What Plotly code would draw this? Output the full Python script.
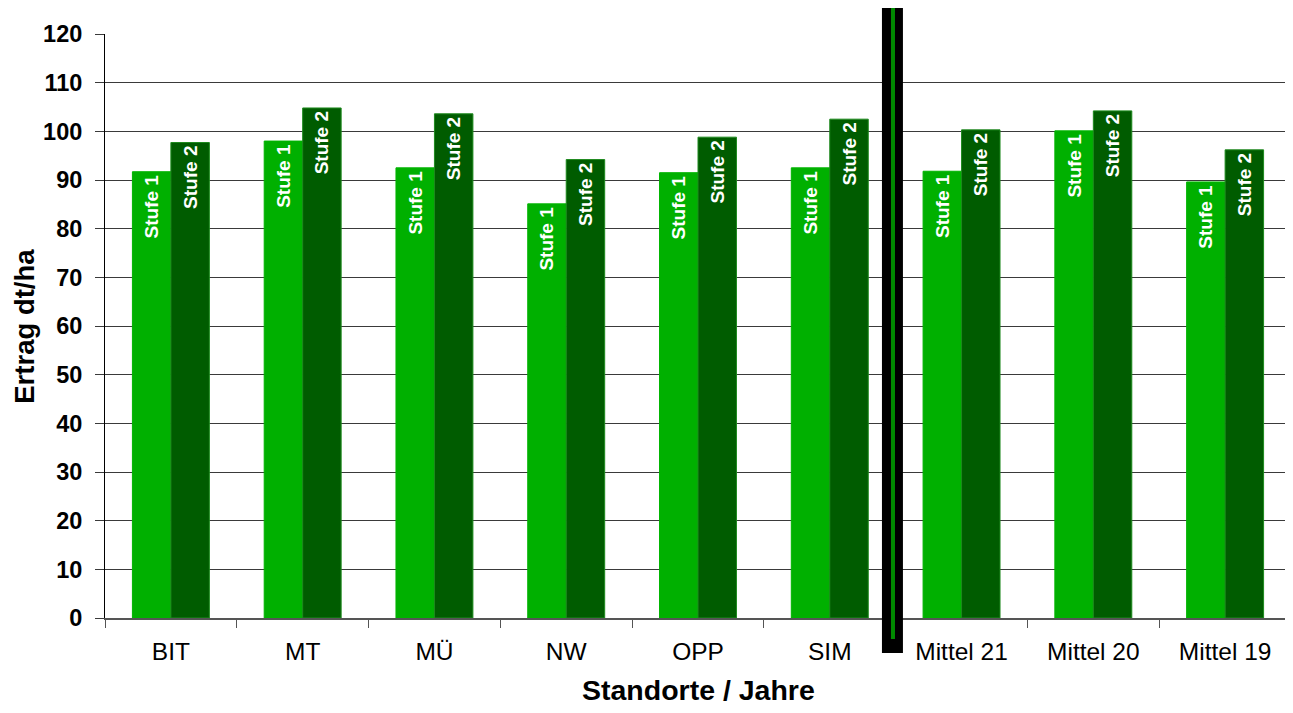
import plotly.graph_objects as go

categories = ["BIT", "MT", "MÜ", "NW", "OPP", "SIM", "Mittel 21", "Mittel 20", "Mittel 19"]
stufe1 = [91.7, 98.0, 92.5, 85.1, 91.5, 92.5, 91.8, 100.1, 89.6]
stufe2 = [97.7, 104.8, 103.6, 94.2, 98.8, 102.5, 100.3, 104.2, 96.2]
series_names = ["Stufe 1", "Stufe 2"]
y_ticks = list(range(0, 121, 10))

FONT = "Liberation Sans, Arial, sans-serif"
C1 = "#00b000"
C2 = "#005c00"

fig = go.Figure()
for name, vals, col, edge in [(series_names[0], stufe1, C1, "#00b400"),
                              (series_names[1], stufe2, C2, "#1e8a1e")]:
    fig.add_trace(go.Bar(
        x=categories, y=vals, name=name,
        marker=dict(color=col, line=dict(color=edge, width=1)),
        text=[name] * len(vals),
        textposition="inside", textangle=-90, insidetextanchor="end",
        insidetextfont=dict(family=FONT, size=19, color="white", weight="bold"),
        cliponaxis=False,
    ))

# the page body adds an 8px offset, so the figure is 8px smaller and margins shifted
fig.update_layout(
    width=1285, height=705,
    margin=dict(l=97, r=2, t=26, b=95, autoexpand=False),
    paper_bgcolor="white", plot_bgcolor="white",
    barmode="group", bargap=0.416, bargroupgap=0,
    showlegend=False,
    font=dict(family=FONT, color="black"),
)
fig.update_yaxes(
    range=[0, 120], tickvals=y_ticks, ticktext=[str(v) for v in y_ticks],
    showgrid=True, gridcolor="#3a3a3a", gridwidth=1,
    showline=True, linecolor="black", linewidth=1, mirror=True,
    ticks="outside", ticklen=9, tickcolor="#3a3a3a",
    tickfont=dict(family=FONT, size=23.5, color="black", weight="bold"),
    ticklabelstandoff=8,
    zeroline=False,
)
fig.update_xaxes(
    showline=True, linecolor="#555555", linewidth=2,
    ticks="outside", tickson="boundaries", ticklen=8, tickcolor="#555555",
    tickfont=dict(family=FONT, size=24.5, color="black"),
    ticklabelstandoff=11,
    showgrid=False,
)

# axis titles
fig.add_annotation(text="<b>Ertrag dt/ha</b>", xref="paper", yref="paper",
                   x=-0.0685, y=0.5, xanchor="center", yanchor="middle",
                   textangle=-90, showarrow=False,
                   font=dict(family=FONT, size=27.5, color="black"))
fig.add_annotation(text="<b>Standorte / Jahre</b>", xref="paper", yref="paper",
                   x=0.5, y=-0.123, xanchor="center", yanchor="middle",
                   showarrow=False,
                   font=dict(family=FONT, size=28.5, color="black"))

# separator between Standorte and Mittel
fig.add_shape(type="rect", xref="paper", yref="paper",
              x0=0.6551, x1=0.6728, y0=-0.060, y1=1.07,
              fillcolor="black", line=dict(width=0), layer="above")
fig.add_shape(type="rect", xref="paper", yref="paper",
              x0=0.6627, x1=0.6661, y0=-0.036, y1=1.050,
              fillcolor="#008a00", line=dict(width=0), layer="above")

fig.write_html("out.html")
